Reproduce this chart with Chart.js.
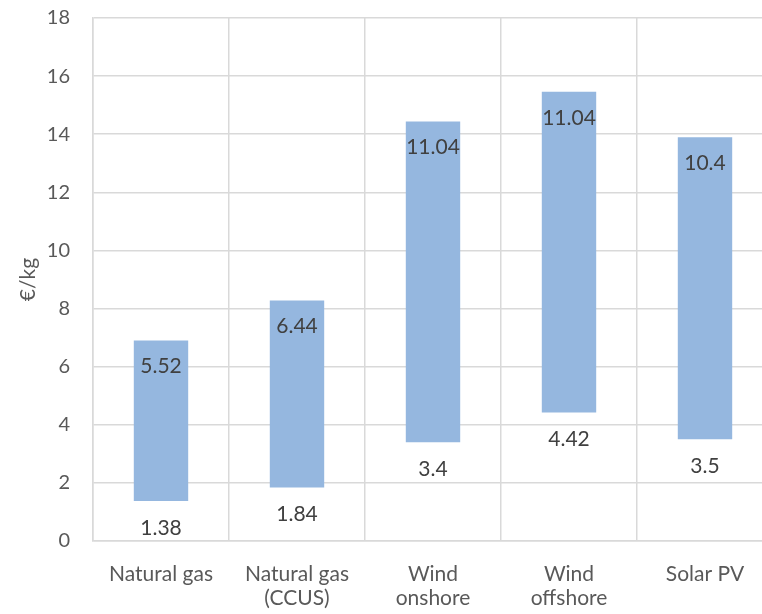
<!DOCTYPE html>
<html>
<head>
<meta charset="utf-8">
<script src="https://cdn.jsdelivr.net/npm/chart.js@4"></script>
<style>
  html, body { margin: 0; padding: 0; background: #fff; overflow: hidden; }
  #wrap { width: 776px; height: 631px; margin-top: -17px; }
</style>
</head>
<body>
<div id="wrap"><canvas id="costChart"></canvas></div>
<script>
// Cost ranges (€/kg), lower bound and span up to the upper bound
const categories = ['Natural gas', ['Natural gas', '(CCUS)'], ['Wind', 'onshore'], ['Wind', 'offshore'], 'Solar PV'];
const lowValues = [1.38, 1.84, 3.4, 4.42, 3.5];
const spanValues = [5.52, 6.44, 11.04, 11.04, 10.4];
const yTicks = [0, 2, 4, 6, 8, 10, 12, 14, 16, 18];

const FONT = 'Lato, "Open Sans", sans-serif';

// Draw low value under each bar and span value inside near the top
const rangeLabels = {
    id: 'rangeLabels',
    afterDatasetsDraw(chart) {
        const ctx = chart.ctx;
        const x = chart.scales.x;
        const y = chart.scales.y;
        ctx.save();
        ctx.font = '21px ' + FONT;
        ctx.fillStyle = '#404040';
        ctx.textAlign = 'center';
        ctx.textBaseline = 'middle';
        lowValues.forEach((low, i) => {
            const cx = x.getPixelForValue(i);
            ctx.fillText(String(low), cx, y.getPixelForValue(low) + 27);
            ctx.fillText(String(spanValues[i]), cx, y.getPixelForValue(low + spanValues[i]) + 26);
        });
        ctx.restore();
    }
};

new Chart(document.getElementById('costChart'), {
    type: 'bar',
    data: {
        labels: categories,
        datasets: [{
            data: lowValues.map((low, i) => [low, low + spanValues[i]]),
            backgroundColor: '#95b7df',
            borderWidth: 0,
            barPercentage: 0.8,
            categoryPercentage: 0.5
        }]
    },
    options: {
        responsive: true,
        maintainAspectRatio: false,
        animation: false,
        layout: { padding: { top: 0, right: 3, bottom: 0, left: 0 } },
        plugins: {
            legend: { display: false },
            tooltip: { enabled: false }
        },
        scales: {
            x: {
                grid: { color: '#d9d9d9', lineWidth: 1.5, drawTicks: false, offset: true },
                border: { color: '#d9d9d9', width: 1.5 },
                ticks: {
                    color: '#595959',
                    font: { family: FONT, size: 21, lineHeight: 1.15 },
                    padding: 21,
                    maxRotation: 0,
                    autoSkip: false
                },
                afterFit(scale) { scale.height = 73; }
            },
            y: {
                min: 0,
                max: 18,
                afterBuildTicks(scale) { scale.ticks = yTicks.map(v => ({ value: v })); },
                grid: { color: '#d9d9d9', lineWidth: 1.5, drawTicks: false },
                border: { color: '#d9d9d9', width: 1.5 },
                ticks: {
                    color: '#595959',
                    font: { family: FONT, size: 20 },
                    padding: 23
                },
                title: {
                    display: true,
                    text: '€/kg',
                    color: '#595959',
                    font: { family: FONT, size: 21 },
                    padding: { top: 16, bottom: 0 }
                },
                afterFit(scale) { scale.width = 93; }
            }
        }
    },
    plugins: [rangeLabels]
});
</script>
</body>
</html>
